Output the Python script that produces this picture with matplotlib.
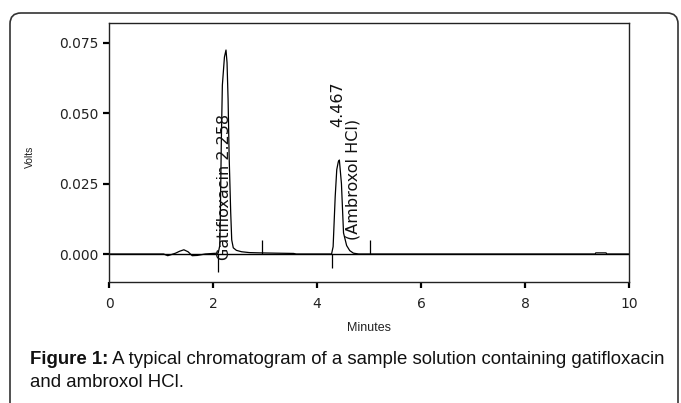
import matplotlib
matplotlib.use("Agg")
import matplotlib.pyplot as plt
from matplotlib.patches import FancyBboxPatch

# ---- data ----
times = [0.0, 1.05, 1.13, 1.20, 1.28, 1.36, 1.44, 1.52, 1.60, 1.70, 1.85, 2.00,
         2.10, 2.13, 2.14, 2.16, 2.18, 2.22, 2.25, 2.27, 2.29, 2.31, 2.34, 2.36,
         2.39, 2.45, 2.55, 2.70, 2.90, 3.20, 3.55, 3.60, 4.28, 4.31, 4.35, 4.38,
         4.41, 4.43, 4.47, 4.51, 4.57, 4.63, 4.70, 4.80, 9.35, 9.36, 9.56, 9.57, 10.0]
volts = [0.0, 0.0, -0.0006, -0.0002, 0.0003, 0.0010, 0.0015, 0.0008, -0.0006, -0.0005, 0.0, 0.0002,
         0.0003, 0.003, 0.012, 0.040, 0.060, 0.070, 0.0725, 0.068, 0.055, 0.035, 0.015, 0.005,
         0.0022, 0.0013, 0.0008, 0.0005, 0.0004, 0.0003, 0.0002, 0.0, 0.0, 0.0026, 0.0204, 0.030,
         0.0328, 0.0334, 0.025, 0.0075, 0.003, 0.0012, 0.0003, 0.0, 0.0, 0.0004, 0.0004, 0.0, 0.0]

marker_times = [2.10, 2.94, 4.28, 5.02]
marker_lo = [-0.0064, 0.0, -0.005, 0.0]
marker_hi = [0.0, 0.005, 0.0, 0.005]

peak_labels = ["Gatifloxacin 2.258", "(Ambroxol HCl)", "4.467"]
peak_label_x = [2.23, 4.69, 4.40]
peak_label_y = [-0.002, 0.005, 0.045]

xticks = [0, 2, 4, 6, 8, 10]
yticks = [0.000, 0.025, 0.050, 0.075]
ytick_labels = ["0.000", "0.025", "0.050", "0.075"]

W, H = 681, 403
fig = plt.figure(figsize=(W / 100, H / 100), dpi=100)
fig.patch.set_facecolor("white")

def px(x, y):
    return x / W, 1 - y / H

# outer rounded frame
box = FancyBboxPatch((10 / W, -20 / H), 668 / W, (403 - 13 + 20) / H,
                     boxstyle="round,pad=0,rounding_size=0.016",
                     transform=fig.transFigure, facecolor="none",
                     edgecolor="#333333", linewidth=1.2, mutation_aspect=W / H)
fig.patches.append(box)

l, b = px(109, 282)
r, t = px(629, 23)
ax = fig.add_axes([l, b, r - l, t - b])
ax.set_xlim(0, 10)
ax.set_ylim(-0.00995, 0.0821)

ax.axhline(0, color="black", lw=1.0, zorder=1)
ax.plot(times, volts, color="black", lw=0.9, zorder=2)
ax.vlines(marker_times, marker_lo, marker_hi, color="black", lw=0.9)

for s, x, y in zip(peak_labels, peak_label_x, peak_label_y):
    ax.text(x, y, s, rotation=90, ha="center", va="bottom",
            fontsize=11.5, family="DejaVu Sans", color="#111111")

for sp in ax.spines.values():
    sp.set_linewidth(1.0)
    sp.set_color("#222222")

ax.set_xticks(xticks)
ax.set_xticklabels([str(v) for v in xticks])
ax.set_yticks(yticks)
ax.set_yticklabels(ytick_labels)
ax.tick_params(axis="both", direction="out", length=4.5, width=1.6,
               labelsize=10, colors="black")
ax.tick_params(axis="x", pad=6)
ax.tick_params(axis="y", pad=3)
for lab in ax.get_xticklabels() + ax.get_yticklabels():
    lab.set_color("#222222")

fig.text(30 / W, 1 - 157 / H, "Volts", rotation=90, ha="center", va="center",
         fontsize=7.5, family="Liberation Sans", color="#222222")
fig.text(369 / W, 1 - 328 / H, "Minutes", ha="center", va="center",
         fontsize=9, family="Liberation Sans", color="#222222")

cap1 = fig.text(30 / W, 1 - 364 / H, "Figure 1:", ha="left", va="baseline",
                fontsize=13.4, family="Liberation Sans", fontweight="bold", color="#111111")
ax.annotate(" A typical chromatogram of a sample solution containing gatifloxacin",
            xy=(1, 0), xycoords=cap1, ha="left", va="bottom",
            fontsize=13.4, family="Liberation Sans", color="#111111", annotation_clip=False)
fig.text(30 / W, 1 - 387 / H, "and ambroxol HCl.", ha="left", va="baseline",
         fontsize=13.4, family="Liberation Sans", color="#111111")

fig.savefig("out.png", dpi=100)
